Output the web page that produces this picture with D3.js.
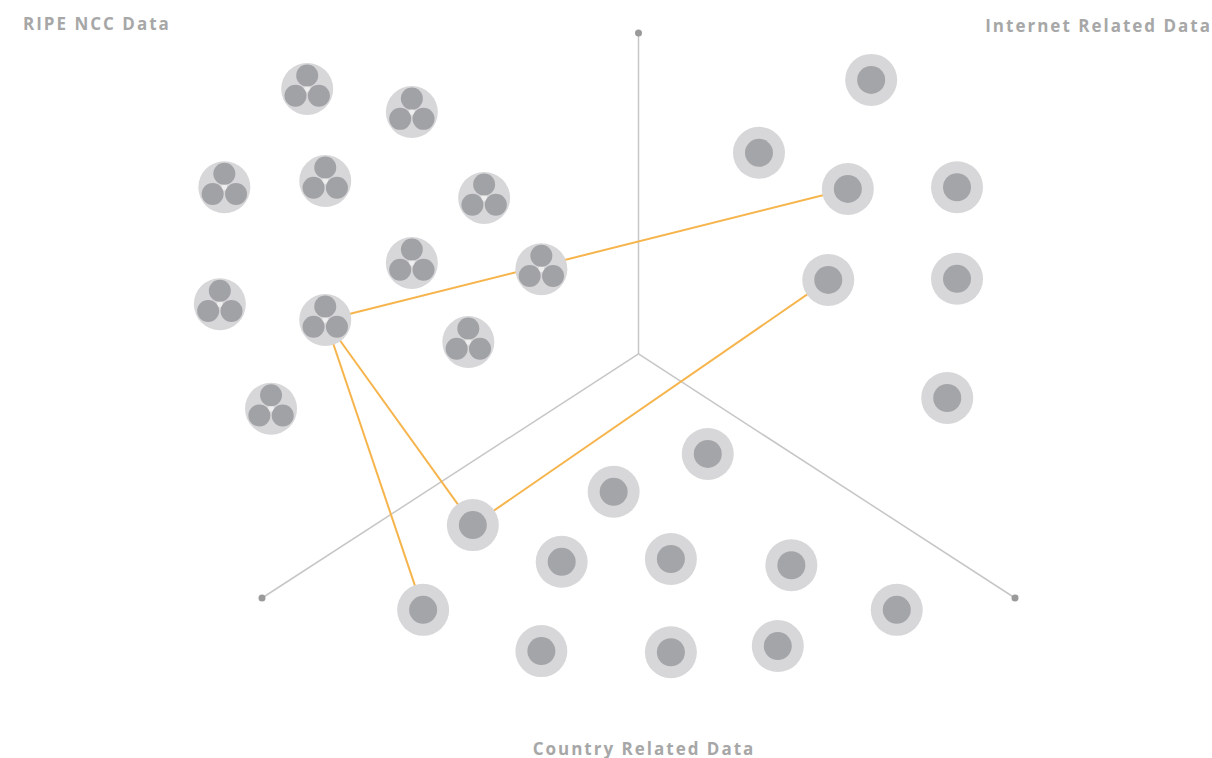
<!DOCTYPE html>
<html>
<head>
<meta charset="utf-8">
<script src="https://cdn.jsdelivr.net/npm/d3@7"></script>
<style>
  body { margin: 0; background: #fff; }
  svg { display: block; }
  text { font-family: "Open Sans", sans-serif; font-weight: 700; fill: #a7a7a7; letter-spacing: 2px; }
</style>
</head>
<body>
<svg id="chart" width="1212" height="758"></svg>
<script>
"use strict";

var ripeNodes = [
  [6.0, 9.9], [19.9, 14.0], [-5.0, 27.3], [8.4, 26.2], [29.5, 29.2], [19.9, 40.7],
  [37.1, 41.8], [-5.6, 48.0], [8.4, 50.8], [27.4, 54.7], [1.2, 66.5]
]
var internetNodes = [
  [80.9, 8.3], [66.0, 21.2], [77.8, 27.6], [92.3, 27.3], [75.2, 43.7], [92.3, 43.5], [91.0, 64.6]
]
var countryNodes = [
  [59.2, 74.5], [46.7, 81.2], [28.0, 87.1], [39.8, 93.6], [54.3, 93.1], [70.3, 94.2],
  [21.4, 102.1], [84.3, 102.1], [37.1, 109.4], [54.3, 109.6], [68.5, 108.5]
]
var axisCenter = [50, 56.8]
var axisEnds = [[50, 0], [0, 100], [100, 100]]
// links: [group, index] -> [group, index]
var links = [
  [["ripe", 8], ["internet", 2]],
  [["ripe", 8], ["country", 2]],
  [["ripe", 8], ["country", 6]],
  [["country", 2], ["internet", 4]]
]
var groupLabels = ["RIPE NCC Data", "Internet Related Data", "Country Related Data"]

var svg = d3.select("#chart")
var x = d3.scaleLinear().domain([0, 100]).range([262, 1015])
var y = d3.scaleLinear().domain([0, 100]).range([33, 598])

var groups = { ripe: ripeNodes, internet: internetNodes, country: countryNodes }

// axes
svg.selectAll(".axis")
    .data(axisEnds)
    .enter()
    .append("line")
    .attr("x1", x(axisCenter[0]))
    .attr("y1", y(axisCenter[1]))
    .attr("x2", function(d){ return x(d[0]) })
    .attr("y2", function(d){ return y(d[1]) })
    .style("stroke", "#c6c6c6")
    .style("stroke-width", 1.5)

svg.selectAll(".axisEnd")
    .data(axisEnds)
    .enter()
    .append("circle")
    .attr("cx", function(d){ return x(d[0]) })
    .attr("cy", function(d){ return y(d[1]) })
    .attr("r", 3.5)
    .style("fill", "#9a9a9a")

// links
svg.selectAll(".link")
    .data(links)
    .enter()
    .append("line")
    .attr("x1", function(d){ return x(groups[d[0][0]][d[0][1]][0]) })
    .attr("y1", function(d){ return y(groups[d[0][0]][d[0][1]][1]) })
    .attr("x2", function(d){ return x(groups[d[1][0]][d[1][1]][0]) })
    .attr("y2", function(d){ return y(groups[d[1][0]][d[1][1]][1]) })
    .style("stroke", "#f6b44c")
    .style("stroke-width", 2)

// plain nodes
var plain = svg.selectAll(".plain")
    .data(internetNodes.concat(countryNodes))
    .enter()
    .append("g")
    .attr("transform", function(d){ return "translate(" + x(d[0]) + "," + y(d[1]) + ")" })

plain.append("circle").attr("r", 26).style("fill", "#d7d7d9")
plain.append("circle").attr("r", 14).style("fill", "#a4a5a9")

// trefoil nodes
var tre = svg.selectAll(".tre")
    .data(ripeNodes)
    .enter()
    .append("g")
    .attr("transform", function(d){ return "translate(" + x(d[0]) + "," + y(d[1]) + ")" })

tre.append("circle").attr("r", 26).style("fill", "#d7d7d9")
tre.append("circle").attr("r", 3).style("fill", "#eeeeee")
tre.selectAll(".lobe")
    .data([-90, 30, 150])
    .enter()
    .append("circle")
    .attr("cx", function(a){ return 13.5 * Math.cos(a * Math.PI / 180) })
    .attr("cy", function(a){ return 13.5 * Math.sin(a * Math.PI / 180) })
    .attr("r", 11)
    .style("fill", "#a1a2a6")

// group labels
svg.append("text").attr("x", 23).attr("y", 30).style("font-size", "17px").text(groupLabels[0])
svg.append("text").attr("x", 1212).attr("y", 32).attr("text-anchor", "end").style("font-size", "17px").text(groupLabels[1])
svg.append("text").attr("x", 644).attr("y", 755).attr("text-anchor", "middle").style("font-size", "17px").text(groupLabels[2])
</script>
</body>
</html>
